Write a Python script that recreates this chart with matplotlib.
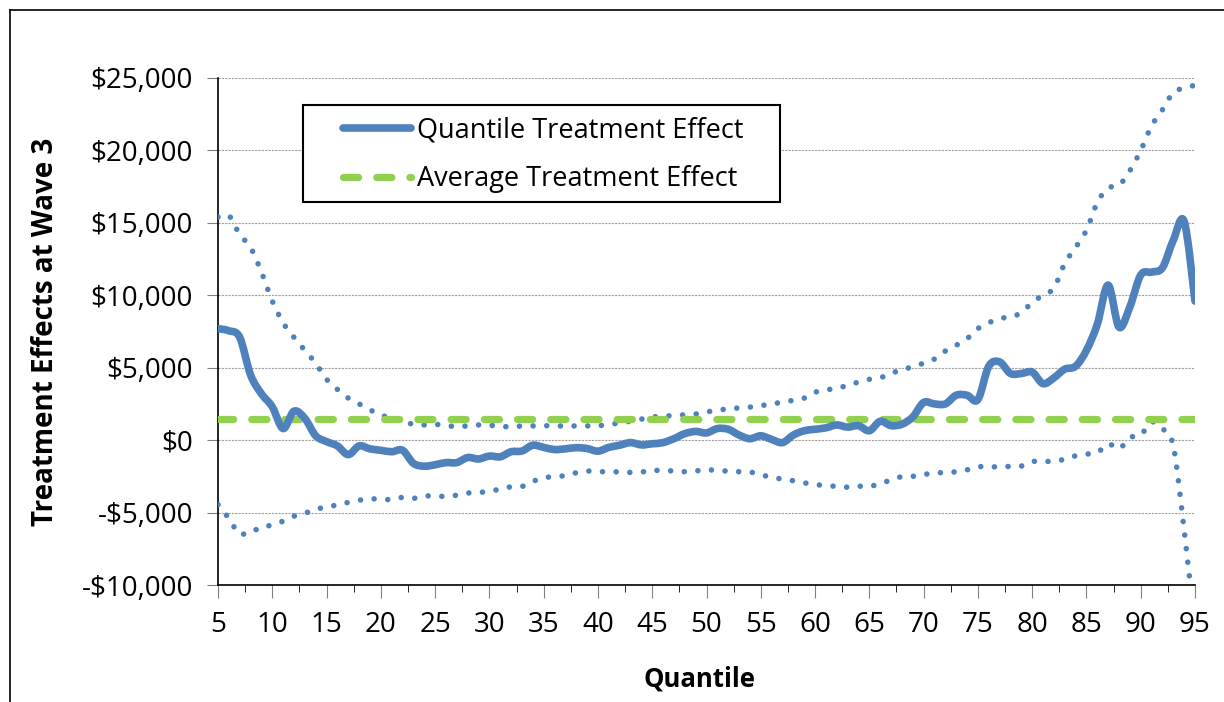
import numpy as np
import matplotlib
matplotlib.use('Agg')
import matplotlib.pyplot as plt
from matplotlib.lines import Line2D
from matplotlib.path import Path
from matplotlib.patches import PathPatch, Rectangle
from matplotlib.ticker import FuncFormatter, MultipleLocator

plt.rcParams['font.family'] = ['Open Sans', 'DejaVu Sans']

# data
quantiles = list(range(5, 96))
qte = [7700, 7550, 7100, 4500, 3200, 2300, 800, 2000, 1500, 300,
       -100, -400, -1000, -400, -600, -700, -800, -700, -1600, -1800,
       -1700, -1550, -1550, -1200, -1300, -1100, -1150, -800, -750, -350,
       -500, -650, -600, -520, -580, -760, -500, -350, -170, -330,
       -250, -170, 100, 450, 600, 500, 800, 750, 350, 100,
       300, 50, -170, 350, 650, 750, 850, 1050, 900, 1000,
       650, 1300, 1000, 1100, 1600, 2600, 2500, 2500, 3100, 3100,
       2800, 5100, 5400, 4600, 4600, 4700, 3900, 4300, 4900, 5100,
       6200, 8000, 10700, 7800, 9200, 11400, 11600, 11900, 13800, 15100,
       9600]
upper_ci = [15400, 15500, 14200, 13300, 11600, 9600, 8100, 7100, 6200, 5300,
            4200, 3500, 2900, 2500, 2100, 1700, 1600, 1300, 1100, 1050,
            1100, 1000, 950, 980, 1050, 1020, 980, 900, 980, 980,
            1000, 980, 980, 980, 980, 1000, 1070, 1200, 1300, 1450,
            1600, 1650, 1700, 1750, 1800, 1950, 2050, 2170, 2220, 2280,
            2380, 2500, 2620, 2750, 2900, 3300, 3480, 3550, 3800, 4000,
            4200, 4300, 4650, 4800, 5100, 5300, 5600, 6150, 6550, 7000,
            7700, 8100, 8400, 8500, 8800, 9500, 10000, 10500, 12200, 13300,
            14500, 16400, 17400, 17600, 18600, 20000, 21700, 22800, 24000, 24300,
            24500]
lower_ci = [-4450, -5400, -6500, -6200, -6150, -5800, -5600, -5250, -5050, -4750,
            -4650, -4450, -4300, -4150, -4050, -4080, -4100, -3950, -4020, -3860,
            -3860, -3880, -3800, -3650, -3620, -3520, -3380, -3220, -3200, -2850,
            -2600, -2520, -2450, -2250, -2130, -2170, -2190, -2190, -2230, -2200,
            -2080, -2120, -2120, -2180, -2130, -2030, -2110, -2130, -2180, -2200,
            -2400, -2550, -2700, -2800, -2950, -3060, -3140, -3190, -3250, -3180,
            -3200, -3000, -2750, -2520, -2500, -2380, -2260, -2250, -2180, -2050,
            -1850, -1810, -1870, -1800, -1790, -1480, -1480, -1440, -1320, -1080,
            -960, -880, -250, -600, 180, 350, 1250, 800, -400, -6200,
            -13000]
ate = 1430

blue = '#4F81BD'
green = '#92D050'
W, H = 1224, 702


def smooth_path(xs, ys):
    # Excel-style smoothed line: Catmull-Rom segments as cubic Beziers
    pts = np.column_stack([xs, ys]).astype(float)
    n = len(pts)
    verts = [pts[0]]
    codes = [Path.MOVETO]
    for i in range(n - 1):
        p0 = pts[max(i - 1, 0)]
        p1 = pts[i]
        p2 = pts[i + 1]
        p3 = pts[min(i + 2, n - 1)]
        verts += [p1 + (p2 - p0) / 6, p2 - (p3 - p1) / 6, p2]
        codes += [Path.CURVE4] * 3
    return Path(verts, codes)


fig = plt.figure(figsize=(W / 100, H / 100), dpi=100)
ax = fig.add_axes([218 / W, 1 - 585 / H, (1195 - 218) / W, (585 - 78) / H])

for ci in (upper_ci, lower_ci):
    p = PathPatch(smooth_path(quantiles, ci), fill=False, edgecolor=blue,
                  lw=4.0, linestyle=(0, (0.01, 2.45)), zorder=3)
    p.set_capstyle('round')
    ax.add_patch(p)

ax.plot(quantiles, [ate] * len(quantiles), color=green, lw=5.2,
        dashes=(2.1, 2.5), dash_capstyle='round', zorder=4)

p = PathPatch(smooth_path(quantiles, qte), fill=False, edgecolor=blue,
              lw=5.5, zorder=5)
p.set_capstyle('round')
p.set_joinstyle('round')
ax.add_patch(p)

ax.set_xlim(5, 95)
ax.set_ylim(-10000, 25000)
ax.xaxis.set_major_locator(MultipleLocator(5))
ax.xaxis.set_minor_locator(MultipleLocator(2.5))
ax.yaxis.set_major_locator(MultipleLocator(5000))


def money(v, pos):
    v = int(round(v))
    if v < 0:
        return '-${:,}'.format(-v)
    return '${:,}'.format(v)


ax.yaxis.set_major_formatter(FuncFormatter(money))
ax.tick_params(axis='both', labelsize=20, direction='out', color='#808080')
ax.tick_params(axis='x', which='major', length=9, pad=10)
ax.tick_params(axis='x', which='minor', length=5)
ax.tick_params(axis='y', which='major', length=8, pad=10)

ax.grid(axis='y', color='#A0A0A0', lw=0.8, ls=(0, (2, 1)))
ax.set_axisbelow(True)
for s in ['top', 'right']:
    ax.spines[s].set_visible(False)
for s in ['left', 'bottom']:
    ax.spines[s].set_color('black')
    ax.spines[s].set_linewidth(1.2)

ax.set_xlabel('Quantile', fontsize=18.5, fontweight='bold')
ax.set_ylabel('Treatment Effects at Wave 3', fontsize=20, fontweight='bold')
ax.xaxis.set_label_coords(0.493, -0.158)
ax.yaxis.set_label_coords(-0.162, 0.50)

# legend (frame drawn separately to match the wide box)
handles = [Line2D([], [], color=blue, lw=5.5, solid_capstyle='round'),
           Line2D([], [], color=green, lw=5.2, dashes=(2.1, 2.5),
                  dash_capstyle='round')]
leg = ax.legend(handles, ['Quantile Treatment Effect', 'Average Treatment Effect'],
                loc='upper left', bbox_to_anchor=(343 / W, 1 - 116 / H),
                bbox_transform=fig.transFigure,
                fontsize=19.5, frameon=False, handlelength=2.5,
                handletextpad=0.25, borderpad=0, labelspacing=0.78,
                borderaxespad=0)
leg.set_zorder(7)
box = Rectangle((303 / W, 1 - 202 / H), (780 - 303) / W, (202 - 105) / H,
                transform=fig.transFigure, facecolor='white', edgecolor='black',
                lw=1.5, zorder=6)
ax.add_artist(box)
box.set_clip_on(False)

# chart area border (top and left visible)
fig.add_artist(Line2D([10 / W, 10 / W], [0, 1 - 10 / H], color='black',
                      lw=1.2, transform=fig.transFigure))
fig.add_artist(Line2D([10 / W, 1], [1 - 10 / H, 1 - 10 / H], color='black',
                      lw=1.2, transform=fig.transFigure))

fig.savefig('out.png', dpi=100)
